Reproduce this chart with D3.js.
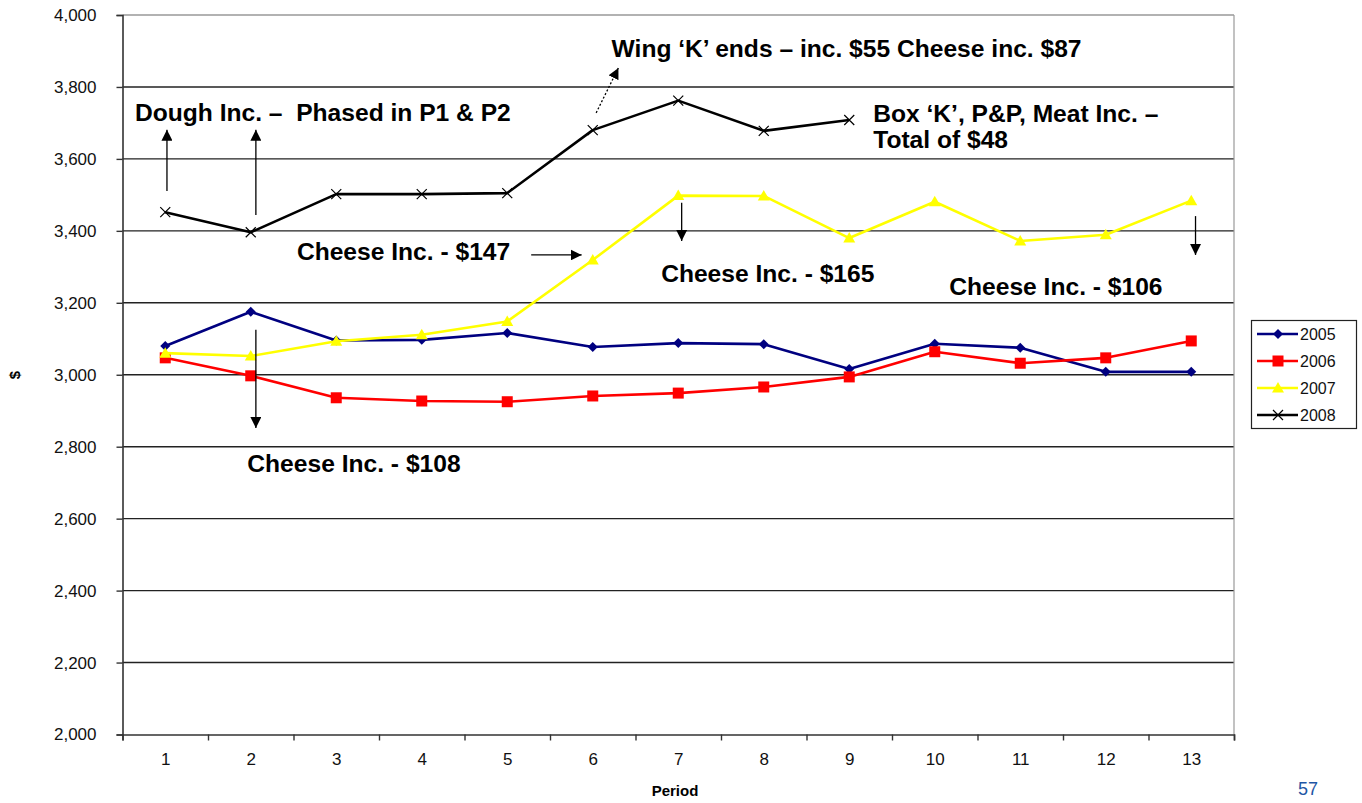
<!DOCTYPE html>
<html>
<head>
<meta charset="utf-8">
<script src="https://cdn.jsdelivr.net/npm/d3@7"></script>
<style>
  html, body { margin: 0; padding: 0; background: #fff; }
  svg { display: block; font-family: "Liberation Sans", Arial, sans-serif; }
</style>
</head>
<body>
<svg id="chart" width="1362" height="803"></svg>
<script>
// Monthly period cost per year
const periods = [1, 2, 3, 4, 5, 6, 7, 8, 9, 10, 11, 12, 13];
const years = ["2005", "2006", "2007", "2008"];
const values2005 = [3080, 3175, 3095, 3097, 3116, 3077, 3088, 3085, 3016, 3086, 3075, 3008, 3008];
const values2006 = [3047, 2997, 2936, 2927, 2925, 2941, 2949, 2966, 2994, 3064, 3032, 3047, 3094];
const values2007 = [3060, 3052, 3093, 3111, 3148, 3319, 3498, 3497, 3380, 3481, 3372, 3389, 3484];
const values2008 = [3452, 3396, 3502, 3502, 3505, 3680, 3762, 3678, 3708];
const yTicks = [2000, 2200, 2400, 2600, 2800, 3000, 3200, 3400, 3600, 3800, 4000];

// Callout notes: [text, period, value]
const notes = [
  ["Dough Inc. \u2013  Phased in P1 & P2", 0.646, 3706],
  ["Wing \u2018K\u2019 ends \u2013 inc. $55 Cheese inc. $87", 6.22, 3882],
  ["Box \u2018K\u2019, P&P, Meat Inc. \u2013", 9.28, 3703],
  ["Total of $48", 9.28, 3629],
  ["Cheese Inc. - $147", 2.54, 3319],
  ["Cheese Inc. - $165", 6.80, 3259],
  ["Cheese Inc. - $106", 10.17, 3222],
  ["Cheese Inc. - $108", 1.96, 2730]
];
// Arrows: [period1, value1, period2, value2, dashed]
const arrows = [
  [1.02, 3511, 1.02, 3681, false],
  [2.06, 3444, 2.06, 3681, false],
  [2.06, 3125, 2.06, 2852, false],
  [6.04, 3728, 6.30, 3853, true],
  [5.28, 3333, 5.87, 3333, false],
  [7.04, 3478, 7.04, 3372, false],
  [13.05, 3441, 13.05, 3333, false]
];

const seriesList = [
  { name: years[0], values: values2005, color: "#000080", shape: "diamond" },
  { name: years[1], values: values2006, color: "#ff0000", shape: "square" },
  { name: years[2], values: values2007, color: "#ffff00", shape: "triangle" },
  { name: years[3], values: values2008, color: "#000000", shape: "cross" }
];

const svg = d3.select("#chart");
const plotLeft = 122.5, plotRight = 1234, plotTop = 15, plotBottom = 734.5;

const x = d3.scaleLinear().domain([0.5, periods.length + 0.5]).range([plotLeft, plotRight]);
const y = d3.scaleLinear().domain([2000, 4000]).range([plotBottom, plotTop]);

// Horizontal gridlines
svg.append("g").selectAll("line").data(yTicks.slice(1)).join("line")
  .attr("x1", plotLeft).attr("x2", plotRight)
  .attr("y1", d => y(d)).attr("y2", d => y(d))
  .attr("stroke", d => d === 4000 ? "#999" : "#222").attr("stroke-width", 1.4);
// Right border
svg.append("line").attr("x1", plotRight).attr("x2", plotRight).attr("y1", plotTop).attr("y2", plotBottom)
  .attr("stroke", "#999").attr("stroke-width", 1.2);

// Y axis
const yAxis = svg.append("g").attr("transform", `translate(${plotLeft},0)`)
  .call(d3.axisLeft(y).tickValues(yTicks).tickSize(6).tickPadding(20).tickFormat(d3.format(",")));
yAxis.select(".domain").attr("stroke", "#333").attr("stroke-width", 1.6);
yAxis.selectAll(".tick line").attr("stroke", "#333").attr("stroke-width", 1.4);
yAxis.selectAll("text").attr("font-size", 17).attr("fill", "#111")
  .attr("font-family", "'Liberation Sans', Arial, sans-serif");

// X axis: tick marks between periods, labels centred on each period
const xTickAxis = svg.append("g").attr("transform", `translate(0,${plotBottom})`)
  .call(d3.axisBottom(x).tickValues(d3.range(0.5, periods.length + 1, 1)).tickSize(6).tickFormat(""));
xTickAxis.select(".domain").attr("stroke", "#333").attr("stroke-width", 1.6);
xTickAxis.selectAll(".tick line").attr("stroke", "#333").attr("stroke-width", 1.4);
const xLabelAxis = svg.append("g").attr("transform", `translate(0,${plotBottom})`)
  .call(d3.axisBottom(x).tickValues(periods).tickSize(0).tickPadding(18).tickFormat(d3.format("d")));
xLabelAxis.select(".domain").remove();
xLabelAxis.selectAll("text").attr("font-size", 17).attr("fill", "#111")
  .attr("font-family", "'Liberation Sans', Arial, sans-serif");

// Axis titles
svg.append("text").attr("x", 675).attr("y", 796).attr("text-anchor", "middle")
  .attr("font-size", 15).attr("font-weight", "bold").text("Period");
svg.append("text").attr("transform", "translate(20,375) rotate(-90)").attr("text-anchor", "middle")
  .attr("font-size", 15).attr("font-weight", "bold").text("$");
svg.append("text").attr("x", 1308).attr("y", 795).attr("text-anchor", "middle")
  .attr("font-size", 18).attr("fill", "#1f56a5").text("57");

// Marker drawing
function drawMarker(g, shape, color, cx, cy) {
  if (shape === "diamond") {
    g.append("path").attr("d", `M${cx},${cy - 5}L${cx + 5},${cy}L${cx},${cy + 5}L${cx - 5},${cy}Z`).attr("fill", color);
  } else if (shape === "square") {
    g.append("rect").attr("x", cx - 5.5).attr("y", cy - 5.5).attr("width", 11).attr("height", 11).attr("fill", color);
  } else if (shape === "triangle") {
    g.append("path").attr("d", `M${cx},${cy - 6}L${cx + 6},${cy + 4.5}L${cx - 6},${cy + 4.5}Z`).attr("fill", color);
  } else {
    g.append("path").attr("d", `M${cx - 5},${cy - 5}L${cx + 5},${cy + 5}M${cx - 5},${cy + 5}L${cx + 5},${cy - 5}`)
      .attr("stroke", color).attr("stroke-width", 1.2).attr("fill", "none");
  }
}

const line = d3.line().x((d, i) => x(periods[i])).y(d => y(d));
seriesList.forEach(s => {
  const g = svg.append("g");
  g.append("path").datum(s.values).attr("d", line)
    .attr("fill", "none").attr("stroke", s.color).attr("stroke-width", 2.6).attr("stroke-linejoin", "round");
  s.values.forEach((v, i) => drawMarker(g, s.shape, s.color, x(periods[i]), y(v)));
});

// Arrowhead
const defs = svg.append("defs");
defs.append("marker").attr("id", "head").attr("viewBox", "0 0 10 10").attr("refX", 10).attr("refY", 5)
  .attr("markerWidth", 11).attr("markerHeight", 11).attr("markerUnits", "userSpaceOnUse").attr("orient", "auto")
  .append("path").attr("d", "M0,0L10,5L0,10Z").attr("fill", "#000");

svg.append("g").selectAll("line").data(arrows).join("line")
  .attr("x1", d => x(d[0])).attr("y1", d => y(d[1]))
  .attr("x2", d => x(d[2])).attr("y2", d => y(d[3]))
  .attr("stroke", "#000").attr("stroke-width", 1.3)
  .attr("stroke-dasharray", d => d[4] ? "2,2" : null)
  .attr("marker-end", "url(#head)");

svg.append("g").selectAll("text").data(notes).join("text")
  .attr("x", d => x(d[1])).attr("y", d => y(d[2]))
  .attr("font-size", 24.6).attr("font-weight", "bold").attr("fill", "#000")
  .style("white-space", "pre").text(d => d[0]);

// Legend
const lg = svg.append("g");
lg.append("rect").attr("x", 1251.5).attr("y", 320.5).attr("width", 105).attr("height", 108)
  .attr("fill", "#fff").attr("stroke", "#222").attr("stroke-width", 1.2);
seriesList.forEach((s, i) => {
  const ly = 334 + i * 27;
  lg.append("line").attr("x1", 1257).attr("x2", 1298).attr("y1", ly).attr("y2", ly)
    .attr("stroke", s.color).attr("stroke-width", 2.6);
  drawMarker(lg, s.shape, s.color, 1278, ly);
  lg.append("text").attr("x", 1300).attr("y", ly + 6).attr("font-size", 16).attr("fill", "#111").text(s.name);
});
</script>
</body>
</html>
